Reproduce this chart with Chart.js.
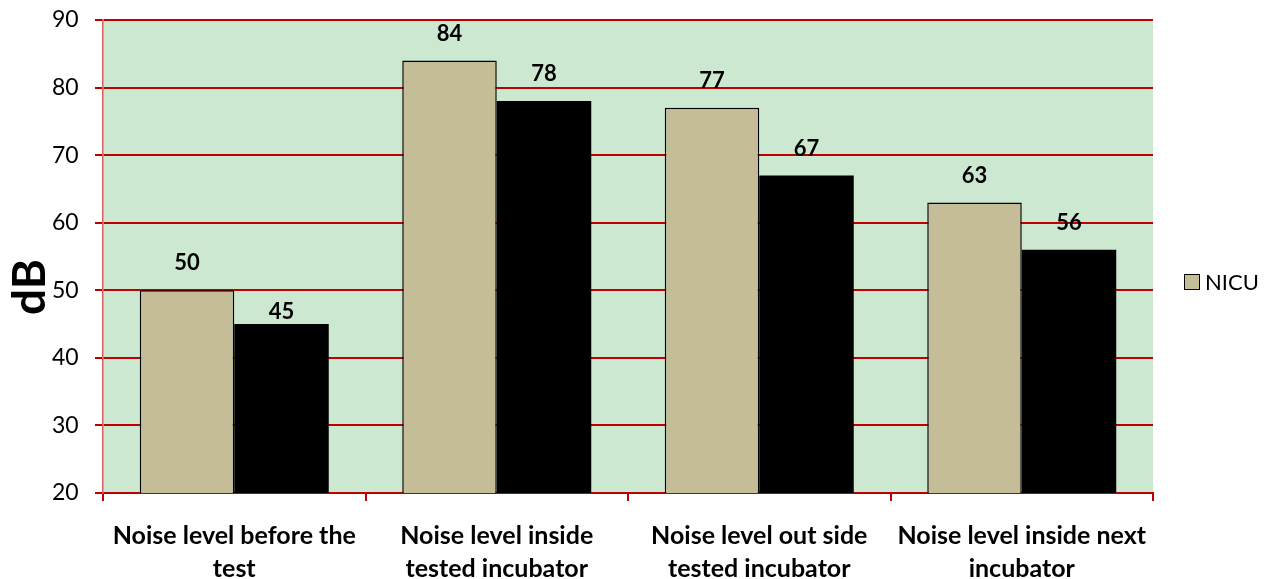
<!DOCTYPE html>
<html>
<head>
<meta charset="utf-8">
<script src="https://cdn.jsdelivr.net/npm/chart.js"></script>
<style>
  html, body { margin: 0; padding: 0; background: #fff; }
  #wrap { width: 1272px; height: 579px; position: relative; }
</style>
</head>
<body>
<div id="wrap"><canvas id="noiseChart"></canvas></div>
<script>
// Chart values
const categories = [
  ['Noise level before the', 'test'],
  ['Noise level inside', 'tested incubator'],
  ['Noise level out side', 'tested incubator'],
  ['Noise level inside next', 'incubator']
];
const nicuValues = [50, 84, 77, 63];
const secondValues = [45, 78, 67, 56];
const yTicks = [20, 30, 40, 50, 60, 70, 80, 90];
const yTitle = 'dB';

const FONT = 'Lato, "Open Sans", sans-serif';
const RED = '#C00000';

// green plot background
const plotBackground = {
  id: 'plotBackground',
  beforeDraw(chart) {
    const { ctx, chartArea } = chart;
    ctx.save();
    ctx.fillStyle = '#CDE8D0';
    ctx.fillRect(chartArea.left, chartArea.top, chartArea.width, chartArea.height);
    ctx.restore();
  }
};

// value labels above each bar
const barValues = {
  id: 'barValues',
  afterDatasetsDraw(chart, args, opts) {
    const { ctx } = chart;
    ctx.save();
    ctx.font = 'bold 22px ' + FONT;
    ctx.fillStyle = '#000';
    ctx.textAlign = 'center';
    ctx.textBaseline = 'middle';
    chart.data.datasets.forEach((ds, di) => {
      chart.getDatasetMeta(di).data.forEach((bar, i) => {
        let gap = opts.gap;
        if (di === 1 && i === 0) gap = opts.nudgedGap;
        ctx.fillText(String(ds.data[i]), bar.x, bar.y - gap);
      });
    });
    ctx.restore();
  }
};

// legend on the right (first series only) and the rotated axis title
const sideText = {
  id: 'sideText',
  afterDraw(chart) {
    const { ctx, chartArea } = chart;
    const ds = chart.data.datasets[0];
    const y = 282;
    const x = chartArea.right + 31;
    ctx.save();
    ctx.fillStyle = ds.backgroundColor;
    ctx.strokeStyle = '#000';
    ctx.lineWidth = 1;
    ctx.fillRect(x, y - 8, 16, 16);
    ctx.strokeRect(x + 0.5, y - 7.5, 15, 15);
    ctx.fillStyle = '#000';
    ctx.font = '22px ' + FONT;
    ctx.textBaseline = 'middle';
    ctx.fillText(ds.label, x + 21, y + 1);

    ctx.translate(30, 287);
    ctx.rotate(-Math.PI / 2);
    ctx.font = 'bold 46px ' + FONT;
    ctx.textAlign = 'center';
    ctx.textBaseline = 'middle';
    ctx.fillText(yTitle, 0, 0);
    ctx.restore();
  }
};

new Chart(document.getElementById('noiseChart'), {
  type: 'bar',
  data: {
    labels: categories,
    datasets: [
      {
        label: 'NICU',
        data: nicuValues,
        backgroundColor: '#C4BD97',
        borderColor: '#000',
        borderWidth: 1.5
      },
      {
        label: '',
        data: secondValues,
        backgroundColor: '#000',
        borderColor: '#000',
        borderWidth: 0
      }
    ]
  },
  options: {
    responsive: true,
    maintainAspectRatio: false,
    animation: false,
    layout: { padding: { top: 20, right: 119, left: 52, bottom: 0 } },
    datasets: {
      bar: { categoryPercentage: 0.72, barPercentage: 1.0 }
    },
    scales: {
      x: {
        grid: {
          offset: true,
          drawOnChartArea: false,
          color: RED,
          lineWidth: 2,
          tickLength: 8
        },
        border: { color: RED, width: 2 },
        ticks: {
          color: '#000',
          padding: 18,
          maxRotation: 0,
          autoSkip: false,
          font: { family: FONT, size: 25, weight: 'bold', lineHeight: '33px' }
        },
        afterFit(scale) { scale.height = 86; }
      },
      y: {
        min: 20,
        max: 90,
        afterBuildTicks(scale) { scale.ticks = yTicks.map(v => ({ value: v })); },
        grid: {
          color: RED,
          lineWidth: 2,
          tickLength: 8,
          tickColor: RED
        },
        border: { color: '#D86060', width: 1.5 },
        ticks: {
          color: '#000',
          padding: 0,
          crossAlign: 'far',
          font: { family: FONT, size: 23 }
        },
        afterFit(scale) { scale.width = 51; }
      }
    },
    plugins: {
      legend: { display: false },
      tooltip: { enabled: false },
      barValues: { gap: 27, nudgedGap: 12 }
    }
  },
  plugins: [plotBackground, barValues, sideText]
});
</script>
</body>
</html>
